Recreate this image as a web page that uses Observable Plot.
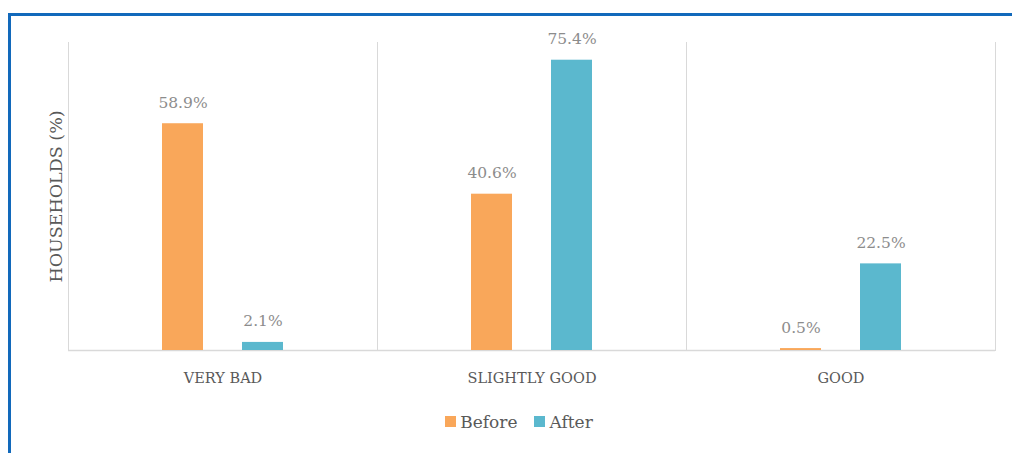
<!DOCTYPE html>
<html>
<head>
<meta charset="utf-8">
<script src="https://cdn.jsdelivr.net/npm/d3@7"></script>
<script src="https://cdn.jsdelivr.net/npm/@observablehq/plot@0.6"></script>
<style>
  html, body { margin: 0; padding: 0; background: #fff; }
  #wrap { position: relative; width: 1012px; height: 453px; overflow: hidden; }
  #border { position: absolute; left: 8px; top: 13px; width: 1010px; height: 450px;
            border-left: 3px solid #1269bb; border-top: 3px solid #1269bb; pointer-events: none; }
  #legend { position: absolute; left: 0; top: 412px; width: 1012px; display: flex; justify-content: center;
            gap: 17px; font-family: "DejaVu Serif", serif; font-size: 17px; color: #595959; padding-left: 26px; box-sizing: border-box; }
  .item { display: flex; align-items: center; gap: 4px; }
  .sw { width: 11px; height: 11px; display: inline-block; margin-bottom: 2px; }
</style>
</head>
<body>
<div id="wrap">
  <div id="chart"></div>
  <div id="legend"></div>
  <div id="border"></div>
</div>
<script>
const categories = ["VERY BAD", "SLIGHTLY GOOD", "GOOD"];
const series = ["Before", "After"];
const before = [58.9, 40.6, 0.5];
const after = [2.1, 75.4, 22.5];
const colors = ["#f9a75a", "#5bb8ce"];

const data = [];
categories.forEach((c, i) => {
  data.push({category: c, series: "Before", value: before[i]});
  data.push({category: c, series: "After", value: after[i]});
});

const chart = Plot.plot({
  width: 1012,
  height: 400,
  marginLeft: 68,
  marginRight: 17,
  marginTop: 42,
  marginBottom: 50,
  style: {fontFamily: "DejaVu Serif, serif", background: "transparent", color: "#595959"},
  fx: {domain: categories, padding: 0, axis: null},
  x: {domain: series, paddingInner: 0.49, paddingOuter: 1.175, axis: null},
  y: {domain: [0, 80], axis: null},
  color: {domain: series, range: colors},
  marks: [
    Plot.frame({anchor: "left", stroke: "#d9d9d9"}),
    Plot.frame({anchor: "right", stroke: "#d9d9d9"}),
    Plot.ruleY([0], {stroke: "#d9d9d9", strokeWidth: 1.5}),
    Plot.axisFx({anchor: "bottom", label: null, tickSize: 0, tickPadding: 22, fontSize: 14.5, fill: "#595959"}),
    Plot.axisY({anchor: "left", ticks: [], label: "HOUSEHOLDS (%)", labelAnchor: "center", labelOffset: 19,
      labelArrow: "none", fontSize: 17.5, fill: "#595959"}),
    Plot.barY(data, {fx: "category", x: "series", y: "value", fill: "series"}),
    Plot.text(data, {fx: "category", x: "series", y: "value", text: d => d.value.toFixed(1) + "%",
      dy: -21, fill: "#8c8c8c", fontSize: 15.5})
  ]
});
document.getElementById("chart").appendChild(chart);

const legend = document.getElementById("legend");
series.forEach((s, i) => {
  const item = document.createElement("div");
  item.className = "item";
  const sw = document.createElement("span");
  sw.className = "sw";
  sw.style.background = colors[i];
  const lab = document.createElement("span");
  lab.textContent = s;
  item.appendChild(sw); item.appendChild(lab);
  legend.appendChild(item);
});
</script>
</body>
</html>
